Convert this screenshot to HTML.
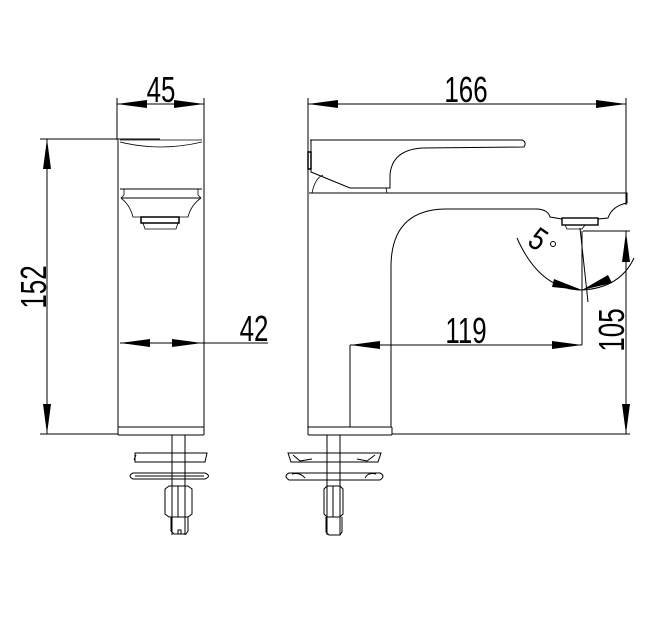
<!DOCTYPE html>
<html><head><meta charset="utf-8"><style>
html,body{margin:0;padding:0;background:#fff;}
svg{display:block;}
text{font-family:"Liberation Sans",sans-serif;fill:#000;}
</style></head><body>
<svg width="672" height="624" viewBox="0 0 672 624" xmlns="http://www.w3.org/2000/svg">
<g fill="none" stroke="#000" stroke-width="1">
<line x1="117" y1="98" x2="117" y2="140"/>
<line x1="204" y1="98" x2="204" y2="140"/>
<line x1="117" y1="104" x2="204" y2="104"/>
<line x1="40" y1="139" x2="160" y2="139"/>
<line x1="40" y1="434" x2="118" y2="434"/>
<line x1="47" y1="139" x2="47" y2="434"/>
<path d="M118,140 L118,427 M204,140 L204,427"/>
<path d="M120,142 Q160,152 202,142" stroke-width="0.8"/>
<line x1="120" y1="140" x2="202" y2="140" stroke-width="0.8"/>
<line x1="120" y1="189" x2="202" y2="189"/>
<path d="M124,189 L124,195 L121,198 M198,189 L198,195 L201,198" stroke-width="0.8"/>
<line x1="121" y1="198" x2="201" y2="198"/>
<path d="M121,198 Q130,205 133,217 L188,217 Q191,205 201,198" stroke-width="0.8"/>
<rect x="141" y="217" width="38" height="6" stroke-width="1.5"/>
<path d="M143,223 L145,229 L176,229 L178,223" stroke-width="0.8"/>
<rect x="118" y="427" width="86" height="8" rx="1"/>
<line x1="120" y1="343" x2="268" y2="343"/>
<path d="M172,435 L172,535 M185,435 L185,535"/>
<path d="M135,453 L207,453 L205,462 L135,462 Z M136,455 L134,460"/>
<path d="M133,473 L205,473 Q212,476 205,479 L133,479 Q127,476 133,473 Z M135,476 L204,476"/>
<path d="M165,489 L169,486 L188,486 L192,489 L192,514 L188,517 L169,517 L165,514 Z M178,486 L178,517"/>
<path d="M171,517 L171,531 L174,534 L186,534 L188,531 L188,517 M178,534 L178,530 L181,530 L181,534"/>
<line x1="308" y1="98" x2="308" y2="434"/>
<line x1="626" y1="98" x2="626" y2="205"/>
<line x1="308" y1="104" x2="626" y2="104"/>
<path d="M310,140 L522,140 Q527,142 524,147 L422,148 Q392,150 390,175 L390,188 L350,188 L311,172 L311,140"/>
<rect x="308" y="152" width="3" height="17" stroke-width="1.5"/>
<path d="M312,193 Q315,178 323,175 M387,193 L386,188" stroke-width="0.8"/>
<path d="M309,193 L627,193 L627,203 Q612,206 608,218 L598,219"/>
<path d="M391,427 L391,265 Q392,210 445,209 L538,209 Q548,210 550,217 L562,219"/>
<rect x="562" y="218" width="36" height="7" stroke-width="1.4"/>
<path d="M565,225 L567,229 L582,229 L585,225" stroke-width="0.8"/>
<rect x="308" y="427" width="84" height="8" rx="1"/>
<line x1="350" y1="345" x2="350" y2="427"/>
<line x1="350" y1="345" x2="582" y2="345"/>
<line x1="582" y1="231" x2="582" y2="345"/>
<line x1="583" y1="231" x2="630" y2="231"/>
<line x1="626" y1="231" x2="626" y2="434"/>
<line x1="392" y1="434" x2="630" y2="434"/>
<line x1="580" y1="228" x2="588" y2="302"/>
<path d="M517,238 Q540,290 582,290 Q620,288 634,258"/>
<path d="M327,435 L327,535 M340,435 L340,535"/>
<path d="M288,453 L381,453 L378,462 L291,462 Z M293,455 L300,461 M375,455 L367,461 M300,461 L312,459 M367,461 L357,459"/>
<path d="M289,473 L380,473 Q386,476 380,480 L289,480 Q283,476 289,473 Z M292,474 Q300,472 305,478 M376,474 Q368,472 365,478"/>
<path d="M324,489 L327,486 L340,486 L343,489 L343,514 L340,517 L327,517 L324,514 Z M333,486 L333,517"/>
<path d="M326,517 L326,532 L329,535 L340,535 L342,532 L342,517"/>
</g>
<g fill="#000" stroke="none">
<polygon points="117,104 147,100 147,108"/>
<polygon points="204,104 174,100 174,108"/>
<polygon points="47,139 43,169 51,169"/>
<polygon points="47,434 43,404 51,404"/>
<polygon points="120,343 150,339 150,347"/>
<polygon points="202,343 172,339 172,347"/>
<polygon points="308,104 338,100 338,108"/>
<polygon points="626,104 596,100 596,108"/>
<polygon points="350,345 380,341 380,349"/>
<polygon points="582,345 552,341 552,349"/>
<polygon points="626,232 622,262 630,262"/>
<polygon points="626,434 622,404 630,404"/>
<polygon points="582,290 554,279 552,287"/>
<polygon points="582,290 608,275 612,283"/>
</g>
<g font-size="36">
<text transform="translate(161 102) scale(0.72 1)" text-anchor="middle">45</text>
<text transform="translate(466 102) scale(0.72 1)" text-anchor="middle">166</text>
<text transform="translate(254 341) scale(0.72 1)" text-anchor="middle">42</text>
<text transform="translate(466 343) scale(0.72 1)" text-anchor="middle">119</text>
<text transform="translate(46 287) rotate(-90) scale(0.72 1)" text-anchor="middle">152</text>
<text transform="translate(624 330) rotate(-90) scale(0.72 1)" text-anchor="middle">105</text>
<text transform="translate(532 248) rotate(35) scale(0.8 1)" text-anchor="middle" font-size="32">5</text>
</g>
<circle cx="553" cy="244" r="2.5" fill="none" stroke="#000" stroke-width="1"/>
</svg>
</body></html>
